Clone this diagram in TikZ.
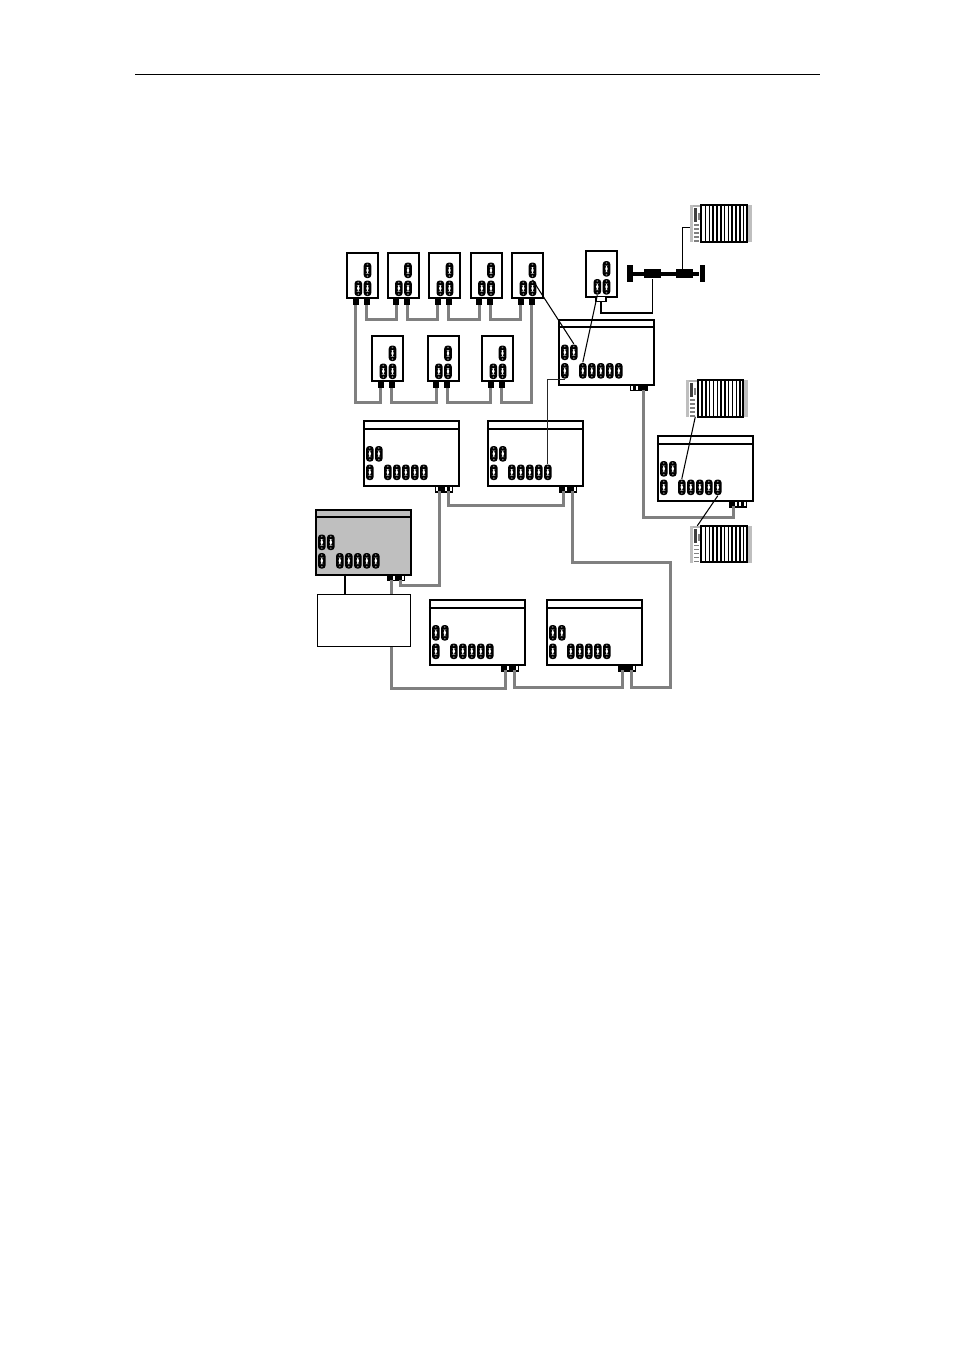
\documentclass[tikz,border=0pt]{standalone}
\usepackage{xcolor}
\usepackage{tikz}
\usetikzlibrary{positioning,calc}

\tikzset{
    unitbox/.style={rectangle, draw=black, fill=white, line width=0.55pt, minimum width=0.31cm, minimum height=0.455cm, inner sep=0pt, anchor=north west},
    modulebox/.style={rectangle, draw=black, line width=0.55pt, minimum width=0.95cm, minimum height=0.65cm, inner sep=0pt, anchor=north west},
    plainbox/.style={rectangle, draw=black, fill=white, line width=0.3pt, inner sep=0pt},
    conn/.style={rectangle, rounded corners=0.03cm, fill=black, minimum width=0.075cm, minimum height=0.155cm, inner sep=0pt,
        path picture={
            \fill[white] ($(path picture bounding box.center)+(-1.2,-3.3)$) rectangle ($(path picture bounding box.center)+(1.2,3.3)$);
            \fill[gray] ($(path picture bounding box.center)+(0,-5.8)$) circle (0.009cm);
            \fill[gray] ($(path picture bounding box.center)+(0,5.8)$) circle (0.009cm);
        }},
    port/.style={rectangle, draw=black, line width=0.35pt, minimum width=0.036cm, minimum height=0.055cm, inner sep=0pt},
    cable/.style={draw=gray, line width=0.85pt},
    wire/.style={draw=black, line width=0.3pt},
    buscap/.style={rectangle, fill=black, minimum width=0.055cm, minimum height=0.17cm, inner sep=0pt},
    busblock/.style={rectangle, fill=black, minimum width=0.17cm, minimum height=0.09cm, inner sep=0pt}
}

% small unit: name, left, top
\newcommand{\unitdev}[3]{
    \node[unitbox] (#1) at (#2,#3) {};
    \node[conn] (#1a) at ([shift={(21.2,18.5)}]#2,#3) {};
    \node[conn] (#1b) at ([shift={(12,36.5)}]#2,#3) {};
    \node[conn] (#1c) at ([shift={(21.2,36.5)}]#2,#3) {};
}
\newcommand{\unitports}[3]{
    \node[port, fill=black, minimum width=0.05cm, anchor=north] (#1p) at ([shift={(9.5,46.5)}]#2,#3) {};
    \node[port, fill=black, minimum width=0.05cm, anchor=north] (#1q) at ([shift={(20.5,46.5)}]#2,#3) {};
}
% large module: name, left, top, fill, port colours
\newcommand{\moduledev}[8]{
    \node[modulebox, fill=#4] (#1) at (#2,#3) {};
    \draw[black, line width=0.6pt] ([shift={(0,8.5)}]#2,#3) -- ([shift={(97,8.5)}]#2,#3);
    \node[conn] (#1a) at ([shift={(7,33.5)}]#2,#3) {};
    \node[conn] (#1b) at ([shift={(16,33.5)}]#2,#3) {};
    \node[conn] (#1c) at ([shift={(7,52)}]#2,#3) {};
    \foreach \i/\xo in {1/25,2/34,3/43,4/52,5/61}
        \node[conn] (#1d\i) at ([shift={(\xo,52)}]#2,#3) {};
    \node[port, fill=#5, anchor=north] (#1p1) at ([shift={(74.5,65.5)}]#2,#3) {};
    \node[port, fill=#6, anchor=north] (#1p2) at ([shift={(79,65.5)}]#2,#3) {};
    \node[port, fill=#7, anchor=north] (#1p3) at ([shift={(83.5,65.5)}]#2,#3) {};
    \node[port, fill=#8, anchor=north] (#1p4) at ([shift={(88,65.5)}]#2,#3) {};
    \coordinate (#1x) at ([shift={(77,71)}]#2,#3);
    \coordinate (#1y) at ([shift={(86,71)}]#2,#3);
}
% rack: name, left, top
\newcommand{\rackdev}[3]{
    \node[rectangle, fill=white, minimum width=0.62cm, minimum height=0.38cm, inner sep=0pt, anchor=north west] (#1) at (#2,#3) {};
    \fill[gray!50] ([shift={(0,1)}]#2,#3) rectangle ([shift={(3,38)}]#2,#3);
    \fill[gray!50] ([shift={(57,1)}]#2,#3) rectangle ([shift={(62,38)}]#2,#3);
    \fill[gray!60] ([shift={(3,1)}]#2,#3) rectangle ([shift={(11,3)}]#2,#3);
    \fill[black!75] ([shift={(4,4)}]#2,#3) rectangle ([shift={(7,18)}]#2,#3);
    \fill[black!50] ([shift={(8,9)}]#2,#3) rectangle ([shift={(10,16)}]#2,#3);
    \foreach \yo in {20,24,...,36}
        \fill[gray] ([shift={(4,\yo)}]#2,#3) rectangle ([shift={(9,\yo+1.5)}]#2,#3);
    \draw[black, line width=0.55pt] ([shift={(11.5,1)}]#2,#3) rectangle ([shift={(57,37.5)}]#2,#3);
    \foreach \xo in {15.8,19.6,...,54}
        \draw[black, line width=0.42pt] ([shift={(\xo,1)}]#2,#3) -- ([shift={(\xo,37.5)}]#2,#3);
}

\begin{document}
\begin{tikzpicture}[x=0.01cm, y=-0.01cm]
    \useasboundingbox (0,0) rectangle (954,1350);
    \draw[black, line width=0.3pt] (135,74.5) -- (820,74.5);

\begin{scope}[shift={(-0.7,-0.7)}]
    % cables first row
    \unitports{ua}{347}{252.5}
    \unitports{ub}{387.5}{252.5}
    \unitports{uc}{429}{252.5}
    \unitports{ud}{470.5}{252.5}
    \unitports{ue}{512}{252.5}
    \unitports{uf}{372}{335.5}
    \unitports{ug}{427.5}{335.5}
    \unitports{uh}{482}{335.5}
    \draw[cable] (uaq.south) -- ++(0,14) -| (ubp.south);
    \draw[cable] (ubq.south) -- ++(0,14) -| (ucp.south);
    \draw[cable] (ucq.south) -- ++(0,14) -| (udp.south);
    \draw[cable] (udq.south) -- ++(0,14) -| (uep.south);
    \draw[cable] (ueq.south) -- ++(0,97) -| (uhq.south);
    \draw[cable] (uhp.south) -- ++(0,14) -| (ugq.south);
    \draw[cable] (ugp.south) -- ++(0,14) -| (ufq.south);
    \draw[cable] (ufp.south) -- ++(0,14) -| (uap.south);

    \unitdev{ua}{347}{252.5}
    \unitdev{ub}{387.5}{252.5}
    \unitdev{uc}{429}{252.5}
    \unitdev{ud}{470.5}{252.5}
    \unitdev{ue}{512}{252.5}
    \unitdev{uf}{372}{335.5}
    \unitdev{ug}{427.5}{335.5}
    \unitdev{uh}{482}{335.5}
    \unitdev{us}{586}{251}

    \moduledev{mt}{558.5}{319.5}{white}{white}{white}{black}{black}
    \moduledev{mr}{657.5}{436}{white}{black}{white}{white}{white}
    \moduledev{ml}{363.5}{421}{white}{white}{black}{white}{white}
    \moduledev{mm}{487.5}{421}{white}{black}{white}{black}{white}
    \moduledev{mg}{315.5}{509.5}{gray!50}{black}{white}{black}{white}
    \moduledev{ba}{429.5}{600}{white}{black}{white}{black}{white}
    \moduledev{bb}{546.5}{600}{white}{black}{black}{black}{white}

    \node[plainbox, minimum width=0.93cm, minimum height=0.52cm, anchor=north west] (station) at (317.5,594.5) {};
    \node[plainbox, minimum width=0.1cm, minimum height=0.05cm, anchor=north] (tap) at (601.7,297) {};

    % bus
    \node[buscap] (capl) at (630.5,274.5) {};
    \node[buscap] (capr) at (703,274.5) {};
    \draw[black, line width=1.1pt] (capl) -- (capr);
    \node[busblock] (busa) at (653.3,274.5) {};
    \node[busblock] (busb) at (685.6,274.5) {};

    \rackdev{rka}{690.5}{205}
    \rackdev{rkb}{687}{380}
    \rackdev{rkc}{690.5}{525.5}

    % cables
    \draw[cable] (mty) -- ++(0,127.5) -| (mrx);
    \draw[cable] (mly) -- ++(0,14.5) -| (mmx);
    \draw[cable] (mlx) -- ++(0,94.5) -| (mgy);
    \draw[cable] (mmy) -- ++(0,71.5) -- ++(97.5,0) -- ++(0,125) -| (bby);
    \draw[cable] (mgx) -- (mgx |- station.north);
    \draw[cable] (mgx |- station.south) -- ++(0,41.5) -| (bax);
    \draw[cable] (bay) -- ++(0,17) -| (bbx);

    % thin wires
    \coordinate (mglink) at (345.7,574.5);
    \draw[wire] (mglink) -- (mglink |- station.north);
    \draw[wire] (ueb.north -| uec.north) -- (mtb.north);
    \draw[wire] (usb.south) -- (mtd1.north);
    \draw[wire] (tap.south) -- ++(0,10.6) -| (busa.south);
    \draw[wire] ([xshift=-0.02cm]busb.north) |- ([yshift=-0.03cm]rka.west);
    \draw[wire, draw=black!85] (mmd5.north) |- (mtc.south);
    \draw[wire] (mrd1.north) -- ([shift={(9,37.5)}]rkb.north west);
    \draw[wire] (mrd5.south) -- ([shift={(7.5,1)}]rkc.north west);
\end{scope}
\end{tikzpicture}
\end{document}
